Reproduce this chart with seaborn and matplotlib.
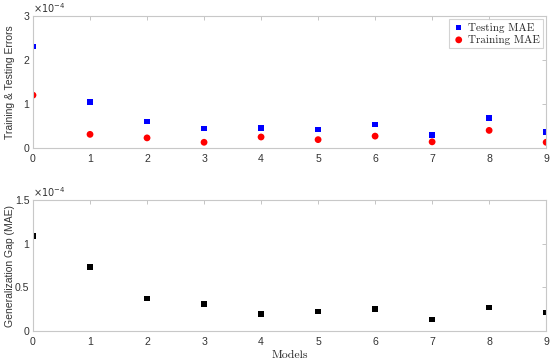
import numpy as np
import pandas as pd
import seaborn as sns
import matplotlib.pyplot as plt
from matplotlib.ticker import FuncFormatter

models = [0, 1, 2, 3, 4, 5, 6, 7, 8, 9]
testing_mae = [2.30e-4, 1.05e-4, 0.60e-4, 0.44e-4, 0.45e-4, 0.42e-4, 0.53e-4, 0.30e-4, 0.68e-4, 0.36e-4]
training_mae = [1.20e-4, 0.31e-4, 0.23e-4, 0.13e-4, 0.25e-4, 0.19e-4, 0.27e-4, 0.14e-4, 0.40e-4, 0.13e-4]
gen_gap = [1.09e-4, 0.73e-4, 0.37e-4, 0.31e-4, 0.195e-4, 0.225e-4, 0.255e-4, 0.134e-4, 0.267e-4, 0.214e-4]

sns.set_style('white')
plt.rcParams['font.family'] = ['Liberation Sans', 'DejaVu Sans']

fig = plt.figure(figsize=(5.5, 3.61), dpi=100)
ax1 = fig.add_axes([0.06, 0.59, 0.933, 0.366])
ax2 = fig.add_axes([0.06, 0.083, 0.933, 0.363])

sns.scatterplot(x=models, y=testing_mae, ax=ax1, marker='s', color='#0000ff', s=16,
                edgecolor='none', label='Testing MAE')
sns.scatterplot(x=models, y=training_mae, ax=ax1, marker='o', color='#ff0000', s=24,
                edgecolor='none', label='Training MAE')
sns.scatterplot(x=models, y=gen_gap, ax=ax2, marker='s', color='black', s=16,
                edgecolor='none')

sci = FuncFormatter(lambda v, p: '%g' % round(v / 1e-4, 6))
for ax, ylim, yt in [(ax1, 3e-4, [0, 1e-4, 2e-4, 3e-4]), (ax2, 1.5e-4, [0, 0.5e-4, 1e-4, 1.5e-4])]:
    ax.set_xlim(0, 9)
    ax.set_ylim(0, ylim)
    ax.set_xticks(models)
    ax.set_yticks(yt)
    ax.yaxis.set_major_formatter(sci)
    ax.tick_params(direction='in', length=3, width=0.6, color='#bbbbbb', labelsize=7.6,
                   labelcolor='#333333', top=True, right=True, pad=4)
    ax.tick_params(axis='y', pad=2.5)
    for sp in ax.spines.values():
        sp.set_color('#c8c8c8')
        sp.set_linewidth(0.8)
    ax.text(0.0, 1.01, r'$\times10^{-4}$', transform=ax.transAxes, fontsize=7,
            color='#333333', va='bottom', ha='left')

ax1.set_ylabel('Training & Testing Errors', fontsize=7.5, color='#333333')
ax2.set_ylabel('Generalization Gap (MAE)', fontsize=7.5, color='#333333')
ax1.yaxis.set_label_coords(-0.035, 0.5)
ax2.yaxis.set_label_coords(-0.035, 0.5)
ax2.set_xlabel('Models', fontsize=8.5, family='cmr10', color='#262626', labelpad=3)

leg = ax1.legend(loc='upper right', prop={'family': 'cmr10', 'size': 8},
                 frameon=True, fancybox=False, borderpad=0.3, handletextpad=0.2,
                 labelspacing=0.2, handlelength=1.2, borderaxespad=0.3)
leg.get_frame().set_edgecolor('#c8c8c8')
leg.get_frame().set_linewidth(0.8)

fig.savefig('out.png', dpi=100)
